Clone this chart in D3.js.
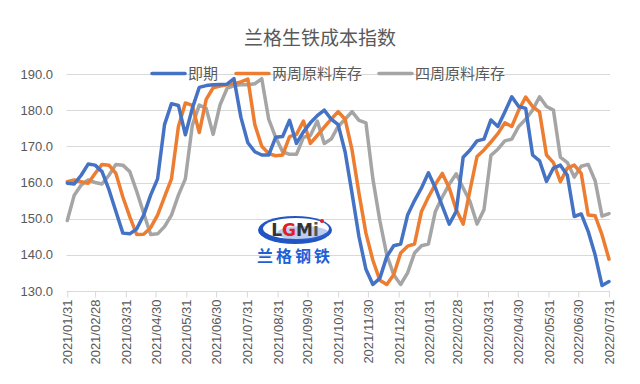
<!DOCTYPE html>
<html>
<head>
<meta charset="utf-8">
<script src="https://cdn.jsdelivr.net/npm/d3@7"></script>
<style>
html,body{margin:0;padding:0;background:#fff;}
svg{display:block;}
</style>
</head>
<body>
<svg id="chart" width="640" height="384"></svg>
<script>
const title = "兰格生铁成本指数";
const seriesNames = ["即期", "两周原料库存", "四周原料库存"];
const seriesColors = ["#4472C4", "#ED7D31", "#A5A5A5"];

const dates = [
"2021-01-31","2021-02-07","2021-02-14","2021-02-21","2021-02-28","2021-03-07","2021-03-14","2021-03-21","2021-03-28",
"2021-04-04","2021-04-11","2021-04-18","2021-04-25","2021-05-02","2021-05-09","2021-05-16","2021-05-23","2021-05-30",
"2021-06-06","2021-06-13","2021-06-20","2021-06-27","2021-07-04","2021-07-11","2021-07-18","2021-07-25",
"2021-08-01","2021-08-08","2021-08-15","2021-08-22","2021-08-29","2021-09-05","2021-09-12","2021-09-19","2021-09-26",
"2021-10-03","2021-10-10","2021-10-17","2021-10-24","2021-10-31","2021-11-07","2021-11-14","2021-11-21","2021-11-28",
"2021-12-05","2021-12-12","2021-12-19","2021-12-26",
"2022-01-02","2022-01-09","2022-01-16","2022-01-23","2022-01-30","2022-02-06","2022-02-13","2022-02-20","2022-02-27",
"2022-03-06","2022-03-13","2022-03-20","2022-03-27","2022-04-03","2022-04-10","2022-04-17","2022-04-24",
"2022-05-01","2022-05-08","2022-05-15","2022-05-22","2022-05-29","2022-06-05","2022-06-12","2022-06-19","2022-06-26",
"2022-07-03","2022-07-10","2022-07-17","2022-07-24","2022-07-31"
];

const spot = [
159.8,159.6,162,165.1,164.8,163,158,152,146,
145.8,147.2,151,156.5,161,176,181.8,181.3,173.2,
180.5,186.3,186.8,187,187.1,187.2,188.7,178,
171,168.5,167.6,167.6,172.5,172.7,177.2,170.8,174,
176.5,178.5,180,177.5,176,168.5,157,145,136,
131.8,133.5,139.5,142.5,
143,151,155,158.5,162.7,158.5,153.5,148.5,152,
167,169,171.5,172,177.3,175.5,179.5,183.7,
181,180.5,167.6,166,160.3,164,164.8,162,150.6,
151.3,146.5,140,131.5,132.6
];

const twoWeek = [
160.2,160.7,160.2,159.8,162.5,165,164.8,162.5,156,
150.5,145.6,145.7,147.5,151,156,161,175.5,182,
181.3,173.8,183,186.2,186.7,187,187.3,187.8,
188.6,176,170,168,167.4,167.6,172.7,173.3,177,
170.8,173,175.3,177.5,179.6,177.5,169,157,146,
138.5,133,131.8,134.5,
140.5,142.4,143,152,156,159.5,162.5,158.5,152.5,
148.5,158,167.2,169,171.2,173.5,176.5,175.5,
180,183.6,181,179.5,167.6,165.5,160.2,164,164.8,
162.5,151,150.8,145.5,138.8
];

const fourWeek = [
149.5,156.5,159.3,160.7,160,159.6,162,165,164.8,
163,157.5,151.5,145.6,145.8,147.8,151,156.5,161,
175.8,181.4,180.5,173.3,181.5,186,186.8,187,
187,187.3,188.7,177.5,172.5,168.5,167.8,167.8,172.5,
173,177,170.8,172,175.5,177.5,179.6,177.2,176.5,
161,149.5,140,134.5,
131.8,135,140.5,142.5,143,152,156,159.5,162.4,
158.5,154.7,148.5,152.5,167.5,169.2,171.5,172,
175.5,177.5,180,183.7,181,180,167,165.5,161.5,
164.5,165,160.5,150.7,151.4
];

const yTicks = [130, 140, 150, 160, 170, 180, 190];
const xTickLabels = [
"2021/01/31","2021/02/28","2021/03/31","2021/04/30","2021/05/31","2021/06/30","2021/07/31",
"2021/08/31","2021/09/30","2021/10/31","2021/11/30","2021/12/31","2022/01/31","2022/02/28",
"2022/03/31","2022/04/30","2022/05/31","2022/06/30","2022/07/31"
];

const svg = d3.select("#chart");
const parseDash = d3.utcParse("%Y-%m-%d");
const parseSlash = d3.utcParse("%Y/%m/%d");
const dateVals = dates.map(parseDash);
const tickDates = xTickLabels.map(parseSlash);

const x = d3.scaleUtc()
  .domain([parseSlash("2021/01/31"), parseSlash("2022/07/31")])
  .range([67.3, 609]);
const y = d3.scaleLinear().domain([130, 190]).range([291, 74]);

const textColor = "#595959";
const gridColor = "#d9d9d9";

// gridlines
svg.append("g").selectAll("line").data(yTicks.filter(d => d !== 130)).join("line")
  .attr("x1", 66.5).attr("x2", 610)
  .attr("y1", d => Math.round(y(d)) + 0.5).attr("y2", d => Math.round(y(d)) + 0.5)
  .attr("stroke", gridColor).attr("stroke-width", 1);

// y labels
svg.append("g").selectAll("text").data(yTicks).join("text")
  .attr("x", 53).attr("y", d => y(d))
  .attr("dy", "0.35em")
  .attr("text-anchor", "end")
  .attr("font-family", "Liberation Sans, Arial, sans-serif")
  .attr("font-size", 13)
  .attr("fill", textColor)
  .text(d => d.toFixed(1));

// x axis
const xAxis = d3.axisBottom(x)
  .tickValues(tickDates)
  .tickFormat(d3.utcFormat("%Y/%m/%d"))
  .tickSize(6)
  .tickSizeOuter(0);
const gx = svg.append("g")
  .attr("transform", `translate(0,${Math.round(y(130)) + 0.5})`)
  .call(xAxis);
gx.select(".domain").attr("stroke", gridColor).attr("d", `M66.5,0H610`);
gx.selectAll(".tick line").attr("stroke", gridColor);
gx.selectAll(".tick text")
  .attr("font-family", "Liberation Sans, Arial, sans-serif")
  .attr("font-size", 13)
  .attr("fill", textColor)
  .attr("transform", "rotate(-90)")
  .attr("text-anchor", "end")
  .attr("x", -8)
  .attr("y", 0)
  .attr("dy", "0.35em");

// logo
const logo = svg.append("g").attr("transform", "translate(295,230)");
logo.append("ellipse").attr("rx", 37).attr("ry", 14).attr("fill", "#2255c4");
logo.append("ellipse").attr("cx", 1).attr("cy", -1.5).attr("rx", 33).attr("ry", 10.5).attr("fill", "#ffffff");
logo.append("ellipse").attr("cx", 8).attr("cy", 3).attr("rx", 26).attr("ry", 7).attr("fill", "#3b6fd6").attr("opacity", 0.35);
const lg = logo.append("text").attr("y", 6).attr("text-anchor", "middle")
  .attr("font-family", "DejaVu Sans, sans-serif").attr("font-weight", "bold").attr("font-size", 17);
lg.append("tspan").attr("fill", "#333").text("L");
lg.append("tspan").attr("fill", "#e02020").text("G");
lg.append("tspan").attr("fill", "#333").text("M");
lg.append("tspan").attr("fill", "#555").text("i");
logo.append("circle").attr("cx", 27).attr("cy", -9).attr("r", 2).attr("fill", "#e02020");
svg.append("text").attr("x", 295).attr("y", 262).attr("text-anchor", "middle")
  .attr("font-family", "Noto Sans CJK SC, sans-serif").attr("font-weight", "bold")
  .attr("font-size", 16).attr("fill", "#1f5fd6").attr("letter-spacing", 3)
  .text("兰格钢铁");

// lines
const allSeries = [spot, twoWeek, fourWeek];
const line = d3.line().x((d, i) => x(dateVals[i])).y(d => y(d));
svg.append("g").selectAll("path").data([2, 1, 0]).join("path")
  .attr("d", k => line(allSeries[k]))
  .attr("fill", "none")
  .attr("stroke", k => seriesColors[k])
  .attr("stroke-width", 3.5)
  .attr("stroke-linejoin", "round")
  .attr("stroke-linecap", "round");

// title
svg.append("text").attr("x", 320).attr("y", 45).attr("text-anchor", "middle")
  .attr("font-family", "Noto Sans CJK SC, sans-serif").attr("font-size", 19)
  .attr("fill", textColor).text(title);

// legend
const legendX = [152, 236, 379];
const lgd = svg.append("g");
seriesNames.forEach((name, k) => {
  lgd.append("line").attr("x1", legendX[k]).attr("x2", legendX[k] + 33)
    .attr("y1", 73.5).attr("y2", 73.5)
    .attr("stroke", seriesColors[k]).attr("stroke-width", 3.5).attr("stroke-linecap", "round");
  lgd.append("text").attr("x", legendX[k] + 36).attr("y", 73.5).attr("dy", "0.36em")
    .attr("font-family", "Noto Sans CJK SC, sans-serif").attr("font-size", 15)
    .attr("fill", textColor).text(name);
});
</script>
</body>
</html>
